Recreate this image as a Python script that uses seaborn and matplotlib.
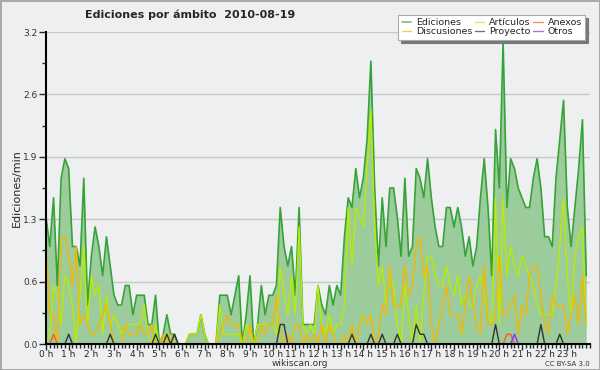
# Ediciones por ámbito - wikiscan style chart
import numpy as np
import pandas as pd
import seaborn as sns
import matplotlib
matplotlib.use("Agg")
import matplotlib.pyplot as plt

# edits per 10 minutes, values are in tenths of edits/min (one point every 10 min)
ediciones = [13, 10, 15, 6, 17, 19, 18, 10, 10, 8, 17, 4, 9, 12, 10, 7, 11, 8, 5, 4, 4, 6, 6, 3,
             5, 5, 5, 2, 2, 5, 0, 1, 3, 1, 1, 0, 0, 0, 1, 1, 1, 3, 1, 0, 0, 0, 5, 5,
             5, 3, 5, 7, 0, 3, 7, 0, 2, 6, 3, 5, 5, 6, 14, 10, 8, 10, 5, 14, 2, 2, 2, 2,
             6, 4, 3, 6, 4, 6, 5, 11, 15, 14, 18, 15, 17, 21, 29, 16, 8, 15, 10, 16, 16, 13, 9, 17,
             9, 10, 18, 17, 15, 19, 15, 12, 10, 10, 14, 14, 12, 14, 12, 9, 11, 8, 10, 15, 19, 14, 7, 22,
             16, 31, 14, 19, 18, 16, 15, 14, 14, 17, 19, 16, 11, 11, 10, 17, 21, 25, 14, 10, 14, 18, 23, 7]
articulos = [0, 1, 6, 5, 2, 7, 6, 4, 0, 5, 10, 2, 7, 5, 6, 1, 5, 2, 3, 2, 1, 2, 2, 2,
             2, 2, 4, 1, 0, 2, 0, 0, 1, 0, 0, 0, 0, 0, 1, 1, 1, 3, 1, 0, 0, 0, 4, 1,
             1, 1, 1, 1, 0, 2, 1, 0, 2, 2, 2, 2, 2, 1, 8, 5, 3, 7, 3, 12, 2, 1, 2, 1,
             6, 2, 1, 3, 1, 2, 2, 4, 14, 8, 14, 13, 12, 18, 24, 12, 6, 8, 4, 7, 6, 2, 0, 6,
             3, 0, 4, 0, 5, 9, 9, 7, 6, 6, 8, 6, 5, 7, 4, 5, 4, 4, 6, 7, 5, 3, 2, 15,
             2, 15, 7, 10, 8, 7, 9, 8, 7, 6, 4, 3, 3, 3, 3, 6, 10, 15, 7, 3, 9, 11, 12, 2]
discusiones = [10, 3, 3, 0, 11, 11, 9, 6, 10, 2, 3, 2, 1, 1, 2, 3, 4, 2, 0, 0, 0, 2, 1, 1,
               1, 2, 1, 1, 2, 0, 0, 1, 0, 1, 0, 0, 0, 0, 0, 0, 0, 0, 0, 0, 0, 0, 1, 2,
               3, 2, 2, 2, 0, 0, 2, 0, 0, 2, 1, 2, 2, 5, 1, 0, 1, 0, 2, 2, 0, 1, 0, 1,
               0, 2, 0, 2, 1, 0, 0, 1, 0, 2, 0, 2, 3, 2, 3, 0, 1, 4, 3, 8, 4, 4, 4, 8,
               5, 6, 10, 11, 7, 8, 2, 0, 2, 4, 6, 3, 3, 3, 1, 4, 7, 4, 2, 1, 8, 2, 2, 3,
               9, 3, 3, 4, 5, 1, 4, 3, 7, 8, 8, 5, 2, 1, 5, 4, 4, 4, 1, 3, 5, 2, 7, 2]
# sparse series: {index of 10-min slot: value}
proyecto_pts = {6: 1, 17: 1, 29: 1, 32: 1, 34: 1, 62: 2, 63: 2, 81: 1, 86: 1, 89: 1, 93: 1,
                98: 2, 99: 1, 100: 1, 119: 2, 131: 2, 136: 1}
anexos_pts = {2: 1, 122: 1, 123: 1}
otros_pts = {124: 1}

hour_labels = [f"{h} h" for h in range(24)]
ytick_vals = [0.0, 0.64, 1.28, 1.92, 2.56, 3.2]
ytick_labels = ["0.0", "0.6", "1.3", "1.9", "2.6", "3.2"]

n = len(ediciones)
minutes = np.arange(n) * 10


def sparse(pts):
    s = np.zeros(n)
    for k, v in pts.items():
        s[k] = v
    return s


df = pd.DataFrame({
    "min": minutes,
    "Ediciones": np.array(ediciones) / 10,
    "Artículos": np.array(articulos) / 10,
    "Discusiones": np.array(discusiones) / 10,
    "Proyecto": sparse(proyecto_pts) / 10,
    "Anexos": sparse(anexos_pts) / 10,
    "Otros": sparse(otros_pts) / 10,
})

colors = {
    "Ediciones": "#36a336",
    "Artículos": "#b8ec00",
    "Discusiones": "#f5b800",
    "Proyecto": "#333333",
    "Anexos": "#ff5a1e",
    "Otros": "#8a2cff",
}

sns.set_style("white")
plt.rcParams['font.family'] = ['DejaVu Sans']
bg = "#eeeff1"

fig = plt.figure(figsize=(6, 3.7), dpi=100, facecolor=bg)
ax = fig.add_axes([46 / 600, 1 - 344 / 370, 544 / 600, 312 / 370])
ax.set_facecolor(bg)

ax.fill_between(df["min"], df["Ediciones"], color="#9ccb9c", lw=0, zorder=1)
for name in ["Ediciones", "Artículos", "Discusiones", "Proyecto", "Anexos", "Otros"]:
    sns.lineplot(data=df, x="min", y=name, ax=ax, color=colors[name],
                 lw=1.2 if name == "Ediciones" else 1.0, label=name, legend=False, zorder=2)

ax.set_xlim(0, 1440)
ax.set_ylim(0, 3.2)

ax.set_xticks(np.arange(24) * 60)
ax.set_xticklabels(hour_labels, fontsize=6.5)
ax.set_xticks(np.arange(0, 1441, 10), minor=True)
ax.set_yticks(ytick_vals)
ax.set_yticklabels(ytick_labels, fontsize=6.5, color="#333333")
ax.set_yticks(np.arange(0.32, 3.2, 0.64), minor=True)
ax.tick_params(axis="x", which="major", length=4, width=1, pad=0, direction="out", bottom=True)
ax.tick_params(axis="x", which="minor", length=3, width=1, direction="out", bottom=True)
ax.tick_params(axis="y", which="major", length=5, width=1, pad=1, direction="out", left=True)
ax.tick_params(axis="y", which="minor", length=3, width=1, direction="out", left=True)

ax.grid(axis="y", which="major", color="#c8c8c8", lw=1)
ax.set_axisbelow(True)
for side in ["top", "right"]:
    ax.spines[side].set_visible(False)
for side in ["left", "bottom"]:
    ax.spines[side].set_color("black")
    ax.spines[side].set_linewidth(1.5)
    ax.spines[side].set_zorder(5)

ax.set_xlabel("")
ax.set_ylabel("Ediciones/min", fontsize=8)
ax.yaxis.set_label_coords(-0.045, 0.5)

fig.text(85 / 600, 1 - 15 / 370, "Ediciones por ámbito  2010-08-19", fontsize=8,
         fontweight="bold", ha="left", va="center")
fig.text(0.5, 1 - 364 / 370, "wikiscan.org", fontsize=6.5, color="#333333",
         ha="center", va="center")
fig.text(590 / 600, 1 - 364 / 370, "CC BY-SA 3.0", fontsize=5, color="#333333",
         ha="right", va="center")

handles, labels = ax.get_legend_handles_labels()
order = ["Ediciones", "Discusiones", "Artículos", "Proyecto", "Anexos", "Otros"]
hmap = dict(zip(labels, handles))
leg = fig.legend([hmap[k] for k in order], order, loc="upper right",
                 bbox_to_anchor=(590 / 600, 1 - 10 / 370), ncol=3, fontsize=6.8,
                 handlelength=1.0, handletextpad=0.5, columnspacing=0.3,
                 labelspacing=0.05, borderpad=0.35, frameon=True, fancybox=False,
                 shadow={"color": "#777777", "alpha": 1}, edgecolor="#aaaaaa")
leg.get_frame().set_linewidth(0.8)
for line in leg.get_lines():
    line.set_alpha(0.7)

fig.patch.set_edgecolor("#aaaaaa")
fig.patch.set_linewidth(2)

fig.savefig("out.png", dpi=100, facecolor=bg, edgecolor="#aaaaaa")
